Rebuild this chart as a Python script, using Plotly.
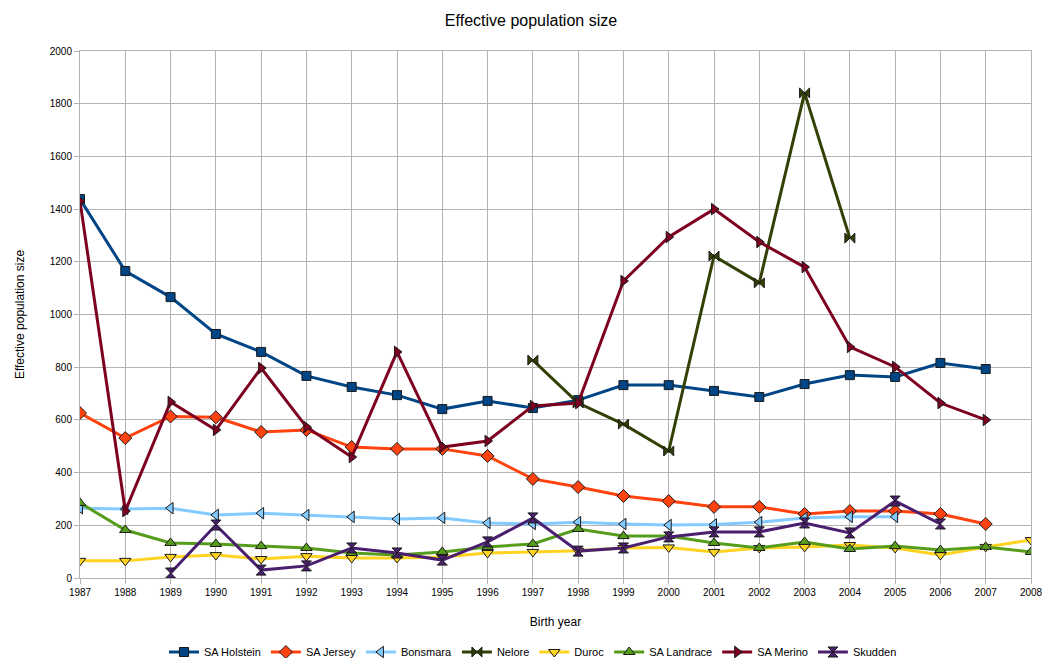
import plotly.graph_objects as go

years = list(range(1987, 2009))

sa_holstein = [1438, 1165, 1066, 926, 858, 767, 725, 694, 641, 672, 645, 675, 732, 732, 710, 687, 736, 770, 763, 816, 793, None]
sa_jersey = [626, 531, 613, 610, 554, 562, 497, 490, 490, 463, 376, 345, 311, 292, 270, 270, 243, 254, 254, 243, 205, None]
bonsmara = [265, 262, 265, 239, 246, 239, 232, 224, 228, 209, 205, 212, 205, 201, 203, 212, 228, 232, 232, None, None, None]
nelore = [None] * 10 + [827, 664, 584, 482, 1222, 1120, 1841, 1290, None, None, None, None]
duroc = [65, 65, 80, 87, 72, 83, 76, 76, 80, 95, 99, 103, 114, 116, 99, 114, 118, 125, 114, 87, 118, 144]
sa_landrace = [285, 182, 133, 129, 121, 114, 95, 87, 99, 118, 129, 186, 159, 159, 133, 114, 137, 110, 121, 106, 118, 99]
sa_merino = [1430, 254, 668, 562, 797, 573, 459, 858, 497, 520, 653, 664, 1127, 1294, 1400, 1275, 1180, 877, 801, 664, 600, None]
skudden = [None, None, 19, 201, 30, 46, 114, 95, 68, 137, 228, 102, 114, 156, 175, 175, 209, 171, 292, 205, None, None]

series = [
    ("SA Holstein", sa_holstein, "#004586", "square", 9),
    ("SA Jersey", sa_jersey, "#ff420e", "diamond", 10),
    ("Bonsmara", bonsmara, "#83caff", "triangle-left", 10),
    ("Nelore", nelore, "#314004", "bowtie", 10),
    ("Duroc", duroc, "#ffd320", "triangle-down", 10),
    ("SA Landrace", sa_landrace, "#579d1c", "triangle-up", 10),
    ("SA Merino", sa_merino, "#7e0021", "triangle-right", 10),
    ("Skudden", skudden, "#4b1f6f", "hourglass", 10),
]

fig = go.Figure()
for name, vals, color, sym, size in series:
    fig.add_trace(go.Scatter(
        x=years, y=vals, name=name, mode="lines+markers",
        line=dict(color=color, width=3),
        marker=dict(symbol=sym, size=size, color=color,
                    line=dict(color="#1a1a1a", width=1)),
        connectgaps=False,
    ))

fig.update_layout(
    width=1042, height=658,
    margin=dict(l=80, r=11, t=51, b=80, autoexpand=False),
    paper_bgcolor="white", plot_bgcolor="white",
    font=dict(family="Liberation Sans, Arial, sans-serif", size=11, color="#000000"),
    title=dict(text="Effective population size", x=531 / 1042, xanchor="center",
               xref="container", y=1 - 20 / 658, yanchor="middle", yref="container",
               font=dict(size=16)),
    showlegend=True,
    legend=dict(orientation="h", x=533 / 1042, xanchor="center", xref="container",
                y=1 - 652 / 658, yanchor="middle", yref="container",
                font=dict(size=11), itemwidth=30, tracegroupgap=0,
                bgcolor="rgba(0,0,0,0)"),
    xaxis=dict(
        title=dict(text="Birth year", font=dict(size=12), standoff=20),
        range=[1987, 2008], tickmode="array", tickvals=years,
        ticktext=[str(y) for y in years], ticklabeloverflow="allow",
        showgrid=True, gridcolor="#b3b3b3", gridwidth=1,
        showline=True, linecolor="#b3b3b3", mirror=True,
        ticks="outside", ticklen=5, tickcolor="#b3b3b3",
        zeroline=False, tickfont=dict(size=10), automargin=False,
    ),
    yaxis=dict(
        title=dict(text="Effective population size", font=dict(size=12), standoff=22),
        range=[0, 2000], tickmode="linear", tick0=0, dtick=200,
        showgrid=True, gridcolor="#b3b3b3", gridwidth=1,
        showline=True, linecolor="#b3b3b3", mirror=True,
        ticks="outside", ticklen=5, tickcolor="#b3b3b3",
        zeroline=False, tickfont=dict(size=10), automargin=False,
    ),
)

fig.write_html("out.html")
